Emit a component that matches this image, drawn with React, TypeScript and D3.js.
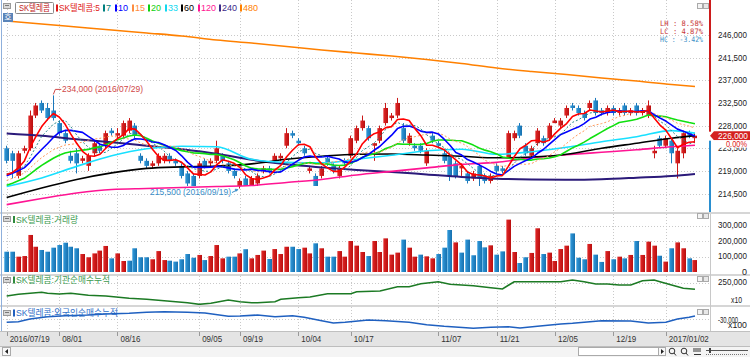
import React from 'react';
import * as d3 from 'd3';

const FONT = "'Liberation Sans','Noto Sans CJK KR',sans-serif";

// ---- axis ticks (trading-day index) ----
const tickIdx = [0, 9, 19, 33, 40, 50, 59, 74, 84, 94, 104, 113];
const tickLabels = ['2016/07/19', '08/01', '08/16', '09/05', '09/19', '10/04', '10/17', '11/07', '11/21', '12/05', '12/19', '2017/01/02'];
const priceTicks = [246000, 241500, 237000, 232500, 228000, 223500, 219000, 214500];
const volTicks = [0, 100000, 200000, 300000];

// ---- daily candles ----
const open = [223500,222500,218000,223000,223500,230000,232500,231500,231000,228500,
226500,222000,222500,221000,220000,222500,224000,224000,227000,226000,
226000,227000,228000,222000,221000,220000,220500,221000,222000,221000,
220000,218500,218000,218000,221000,220500,221000,222000,220500,219000,
216000,217500,216000,216500,219000,219500,221000,221500,224000,226500,
225000,223500,219000,218000,218000,221500,220000,218000,221000,222000,
225000,227500,227500,224000,225000,228500,229500,230000,227500,224500,
224000,224000,220500,226000,224500,222500,222000,220500,219500,218500,
217500,220000,218000,217000,220000,219500,221500,225500,228000,224000,
222000,224500,225500,225500,228500,228000,230000,232000,231500,230500,
231500,233000,231000,230500,231500,230500,232000,230500,232000,230500,
230000,222500,225500,224000,225000,220500,222500,226500,225500];
const high = [224000,223000,223000,224000,231000,232500,233000,232500,234000,229000,
227000,223000,223500,222000,222500,225000,224500,227000,227500,227500,
229000,229500,228500,222500,221500,221000,222500,222500,222500,221500,
220500,219000,218500,221000,221500,221500,225000,222500,221000,219500,
217500,218000,218000,218500,220000,220000,222500,222500,227500,227000,
225500,224000,220000,218500,220000,222000,220500,220000,221500,226000,
228000,230000,228000,224500,228000,232500,230500,233500,228500,226500,
224500,224500,223500,226500,225000,223000,222500,221000,220500,219000,
219000,220500,218500,218500,220500,220000,227000,227000,228500,224500,
224000,227500,226000,228500,229500,229500,232000,232500,232000,231000,
233000,233500,231500,232000,232000,231500,232500,231500,232500,231500,
233000,224000,226000,226000,225500,223500,227000,227000,226500];
const low = [220500,217500,217500,222500,223000,229500,230500,229000,229000,226000,
224500,220500,218500,220500,219000,222000,222500,223500,226000,225500,
225500,226500,225500,220500,219500,219500,220000,220500,220500,220000,
217500,216000,216000,217500,219500,220000,220500,220500,218500,217500,
215500,216000,216000,216000,218500,218500,220500,221000,223500,225500,
224000,222000,218500,216000,217500,220000,218500,217500,220000,221500,
224500,227000,225000,221000,224500,228000,229000,229500,224500,224000,
223000,222500,220000,224500,223500,220500,217000,217500,218000,216500,
217000,216000,216500,216500,218500,218500,221500,225000,225500,222000,
221500,224000,224000,225000,228500,227500,229500,231000,230000,229000,
231000,230000,230000,230000,230000,230000,230000,230000,230000,230000,
229500,221500,223500,223500,220500,217500,221500,225500,224500];
const close = [221000,221000,222500,223500,230000,232000,231000,229500,229500,226500,
225000,221000,220500,221500,222000,224500,223000,226500,226500,226500,
228500,229000,226000,221000,220000,220500,222000,222000,221000,220500,
218000,216500,216000,220500,220000,221000,223500,221000,219000,218000,
217000,216000,217500,218000,219500,219000,222000,222000,226500,226000,
224500,222500,219500,216000,219500,220500,219000,219500,220500,225500,
227500,229000,225500,224500,227500,231500,230000,232500,225000,226000,
223500,223000,223000,225000,224000,221000,218000,218000,220000,217000,
218500,217500,217000,218000,219000,219000,226500,226500,226000,222500,
223500,227000,224500,228000,229000,229000,231500,231500,230500,229500,
232500,230500,230500,231500,230500,231000,230500,231000,230500,231000,
232000,223000,224000,225500,222500,223000,226500,226000,226000];
// closes of the sessions just before the window (feed the short averages)
const priorCloses = [212500,213000,213500,213000,214000,214500,215000,215500,215000,216000,
216000,217500,218000,219000,218500,219000,218000,217000,216500];

// ---- longer moving averages, read at sampled sessions ----
const knotIdx = [0, 6, 12, 18, 24, 30, 36, 42, 48, 54, 60, 66, 72, 78, 84, 90, 96, 102, 108, 114, 118];
const ma33 = [215900,217600,219900,222000,223400,223900,223800,221300,220700,220600,221300,222100,223000,223300,222300,222800,223700,224800,225800,227000,226500];
const ma60 = [213700,215600,217300,218600,219500,219800,219950,220400,221300,221900,222300,222350,222150,221900,221600,221750,222300,223500,224500,225500,226000];
const ma120 = [212300,213500,214600,215300,215500,215700,215900,216100,216700,217300,218200,218900,219600,220300,220700,221600,222200,222700,223200,223800,224100];
const ma240 = [226450,226000,225300,224700,224000,223300,222400,221200,220300,219700,219200,218800,218300,217800,217450,217300,217250,217350,217650,218000,218400];
const ma480 = [248780,248190,247590,246990,246400,245800,245010,244410,243720,243020,242420,241830,241130,240340,239440,238750,238150,237460,236860,236160,235770];

// ---- volume ----
const volume = [131,131,99,103,239,163,142,131,157,174,
189,163,153,116,95,120,138,168,88,120,
71,73,153,95,95,82,135,77,73,67,
82,116,92,110,77,103,174,88,99,99,
120,147,88,110,138,84,148,116,163,163,
148,157,120,185,153,99,99,135,99,200,
170,129,103,200,129,217,112,125,209,157,
99,112,101,88,116,157,271,191,125,209,
108,200,159,172,112,133,338,129,58,95,
123,282,116,125,71,148,170,249,92,82,
181,112,65,135,82,99,88,110,200,110,
196,170,105,67,153,191,153,88,77].map(v => v * 1000);
const volColor = 'BBRRRRBBBB' + 'BBBRRRRRBR' + 'RBBBBRRRBB' + 'BBBRBRRRBB' + 'RBRRRBRRRB' +
  'BRRBRBBRRR' + 'RRBRRRRRBR' + 'RBRRBBBRBB' + 'BBBRBBRRBB' + 'RRBRRRRBBB' + 'RBBRBRBRBR' + 'RRBRBRRBR';

// ---- institutional cumulative net buying (x10) ----
const instIdx = [0,2,6,7,9,11,14,17,21,24,27,31,33,35,38,40,42,43,46,47,50,52,55,59,60,64,67,69,71,74,76,80,83,85,87,91,95,97,99,101,103,105,107,109,111,112,114,116,118];
const instVal = [224000,227400,231400,229400,228000,229400,225400,224000,219400,217400,214600,210600,207400,209400,216000,212600,210600,210600,212600,217400,220600,222000,228600,228600,232600,234000,242600,242600,248600,252600,247400,244600,240600,238000,252600,252600,252600,256000,252600,248000,248000,246000,246000,254600,256000,252600,246000,239400,237400];
// ---- foreign cumulative net buying (x100) ----
const forIdx = [0,2,4,7,10,14,17,21,24,27,31,34,38,40,43,46,49,51,54,56,58,62,65,69,72,75,80,83,86,88,91,95,97,99,102,107,110,113,115,117,118];
const forVal = [-31150,-30850,-29500,-28350,-27850,-27500,-27000,-26650,-26150,-25850,-26150,-26500,-28150,-28000,-27500,-28350,-27850,-28650,-30350,-31500,-31150,-30000,-30350,-31150,-32350,-33150,-34150,-33650,-33350,-34000,-33150,-32000,-31650,-31150,-30350,-30500,-31500,-31150,-29500,-28650,-28000];

const legendItems = [
  { label: '7', x: 103, w: 5, color: '#008080' },
  { label: '10', x: 115, w: 10, color: '#0000ff' },
  { label: '15', x: 132, w: 10, color: '#ff8c40' },
  { label: '20', x: 148, w: 10, color: '#10d010' },
  { label: '33', x: 165, w: 10, color: '#10d8f0' },
  { label: '60', x: 181, w: 10, color: '#000000' },
  { label: '120', x: 198, w: 15, color: '#ff1493' },
  { label: '240', x: 219, w: 15, color: '#3a2a8a' },
  { label: '480', x: 240, w: 15, color: '#ff8000' },
];

const fmt = d3.format(',');

function T(p: any) {
  const { x, y, fill = '#222', size = 9, len, anchor = 'start', children, family } = p;
  return (
    <text x={x} y={y} fill={fill} fontSize={size} fontFamily={family || FONT} textAnchor={anchor}
      dominantBaseline="central" textLength={len} lengthAdjust={len ? 'spacingAndGlyphs' : undefined}>{children}</text>
  );
}

function PanelIcon({ x, y }: { x: number; y: number }) {
  return (
    <g>
      <rect x={x + 0.5} y={y + 0.5} width={7} height={5} fill="#d8d8d8" stroke="#9a9a9a" />
      <line x1={x + 2} x2={x + 6} y1={y + 2.5} y2={y + 2.5} stroke="#777" />
    </g>
  );
}

function WinButtons({ y }: { y: number }) {
  return (
    <g>
      <rect x={697.5} y={y + 0.5} width={5} height={5} fill="#f4f4f4" stroke="#aaa" />
      <rect x={703.5} y={y + 0.5} width={5} height={5} fill="#e8e8e8" stroke="#aaa" />
    </g>
  );
}

export default function App() {
  const n = close.length;
  const x = d3.scaleLinear().domain([0, n - 1]).range([6.67, 6.67 + 5.833 * (n - 1)]);
  const yP = d3.scaleLinear().domain([214500, 246000]).range([193.55, 35]);
  const yV = d3.scaleLinear().domain([0, 300000]).range([272, 225.5]);
  const yI = d3.scaleLinear().domain([200000, 250000]).range([308, 283]);
  const yF = d3.scaleLinear().domain([-40000, -30000]).range([340, 320]);

  const all = priorCloses.concat(close);
  const off = priorCloses.length;
  const sma = (len: number) => close.map((_, i) => {
    const s = all.slice(i + off - len + 1, i + off + 1);
    return [i, d3.mean(s) as number] as [number, number];
  });

  const priceLine = d3.line<[number, number]>().x(d => x(d[0])).y(d => yP(d[1]));
  const smooth = d3.line<[number, number]>().x(d => x(d[0])).y(d => yP(d[1])).curve(d3.curveMonotoneX);
  const knots = (vals: number[]) => knotIdx.map((k, j) => [k, vals[j]] as [number, number]);

  const maLines = [
    { d: smooth(knots(ma480)), c: '#ff8000', w: 1.6 },
    { d: smooth(knots(ma240)), c: '#2b1a7a', w: 2 },
    { d: smooth(knots(ma120)), c: '#ff1493', w: 1.6 },
    { d: smooth(knots(ma60)), c: '#000000', w: 1.6 },
    { d: smooth(knots(ma33)), c: '#18e0ff', w: 1.6 },
    { d: priceLine(sma(20)), c: '#10e010', w: 1.6 },
    { d: priceLine(sma(15)), c: '#ff9a5a', w: 1, dash: '2,2' },
    { d: priceLine(sma(10)), c: '#0000ff', w: 1.6 },
    { d: priceLine(sma(7)), c: '#2a8a8a', w: 1, dash: '2,2' },
    { d: priceLine(sma(5)), c: '#ff0000', w: 1.6 },
  ];

  const instLine = d3.line<number>().x((_, j) => x(instIdx[j])).y(v => yI(v))(instVal);
  const forLine = d3.line<number>().x((_, j) => x(forIdx[j])).y(v => yF(v))(forVal);

  const gx = tickIdx.map(i => Math.round(x(i)) + 0.5);
  const last = close[n - 1];
  const lastY = yP(last);

  const hiIdx = high.indexOf(d3.max(high) as number);
  const loIdx = low.indexOf(d3.min(low) as number);
  const hi = high[hiIdx], lo = low[loIdx];
  const pct = (v: number) => (v * 100).toFixed(2) + '%';

  const panels = [
    { top: 0, bottom: 212 },
    { top: 214, bottom: 274 },
    { top: 276, bottom: 305 },
    { top: 307, bottom: 331 },
  ];

  return (
    <svg width={750} height={357} style={{ position: 'absolute', left: 0, top: 0, background: '#fff' }}>
      <defs>
        <linearGradient id="gR" x1="0" x2="1" y1="0" y2="0">
          <stop offset="0" stopColor="#f5a0a0" />
          <stop offset="0.3" stopColor="#d82222" />
          <stop offset="1" stopColor="#b80e0e" />
        </linearGradient>
        <linearGradient id="gB" x1="0" x2="1" y1="0" y2="0">
          <stop offset="0" stopColor="#90cdf0" />
          <stop offset="0.3" stopColor="#2a8fd0" />
          <stop offset="1" stopColor="#1670ae" />
        </linearGradient>
        <clipPath id="cMain"><rect x={3} y={0} width={706} height={212} /></clipPath>
        <clipPath id="cInst"><rect x={3} y={276} width={706} height={29} /></clipPath>
        <clipPath id="cFor"><rect x={3} y={307} width={706} height={24} /></clipPath>
      </defs>

      <rect x={0} y={0} width={750} height={357} fill="#fff" />

      {/* grid */}
      {panels.map((p, k) => gx.map((g, j) => (
        <line key={`v${k}-${j}`} x1={g} x2={g} y1={p.top} y2={p.bottom} stroke="#c9c9c9" strokeDasharray="1,2" />
      )))}
      {priceTicks.map(t => (
        <line key={`h${t}`} x1={3} x2={709} y1={Math.round(yP(t)) + 0.5} y2={Math.round(yP(t)) + 0.5} stroke="#c9c9c9" strokeDasharray="1,2" />
      ))}
      {volTicks.slice(1).map(t => (
        <line key={`hv${t}`} x1={3} x2={709} y1={Math.round(yV(t)) + 0.5} y2={Math.round(yV(t)) + 0.5} stroke="#c9c9c9" strokeDasharray="1,2" />
      ))}
      <line x1={3} x2={709} y1={283.5} y2={283.5} stroke="#c9c9c9" strokeDasharray="1,2" />
      <line x1={3} x2={709} y1={319.5} y2={319.5} stroke="#c9c9c9" strokeDasharray="1,2" />

      {/* candles */}
      <g clipPath="url(#cMain)">
        {close.map((c, i) => {
          const up = c > open[i] || (c === open[i] && i > 0 && c >= close[i - 1]);
          const left = Math.round(x(i) - 2.5);
          const top = yP(Math.max(open[i], c));
          const bot = yP(Math.min(open[i], c));
          return (
            <g key={`c${i}`}>
              <line x1={left + 2.5} x2={left + 2.5} y1={yP(high[i])} y2={yP(low[i])} stroke={up ? '#cc1818' : '#1a78bc'} />
              <rect x={left} y={top} width={5} height={Math.max(1, bot - top)} fill={up ? 'url(#gR)' : 'url(#gB)'} />
            </g>
          );
        })}
        {maLines.map((m, k) => (
          <path key={`ma${k}`} d={m.d || ''} fill="none" stroke={m.c} strokeWidth={m.w} strokeDasharray={m.dash} strokeLinejoin="round" />
        ))}
      </g>

      {/* hi / lo annotations */}
      <path d={`M${x(hiIdx)},${yP(hi) - 1} L${x(hiIdx) + 2},${yP(hi) - 6} L${x(hiIdx) + 8},${yP(hi) - 6}`} fill="none" stroke="#d04848" />
      <T x={62} y={yP(hi) - 6} fill="#d04848" size={9} len={81}>{`${fmt(hi)} (2016/07/29)`}</T>
      <T x={150} y={yP(lo) + 3} fill="#3a8ec8" size={9} len={81}>{`${fmt(lo)} (2016/09/19)`}</T>
      <path d={`M${x(loIdx) - 8},${yP(lo) + 4} L${x(loIdx) - 2},${yP(lo) + 1}`} fill="none" stroke="#3a8ec8" />
      <path d={`M${x(loIdx) - 2},${yP(lo) + 1} l-3,-0.5 l1,2.5 z`} fill="#3a8ec8" stroke="#3a8ec8" strokeWidth={0.5} />

      {/* volume */}
      {volume.map((v, i) => {
        const left = Math.round(x(i) - 2.5);
        return <rect key={`vb${i}`} x={left} y={yV(v)} width={5} height={yV(0) - yV(v)} fill={volColor[i] === 'R' ? 'url(#gR)' : 'url(#gB)'} />;
      })}

      {/* investor lines */}
      <g clipPath="url(#cInst)">
        <path d={instLine || ''} fill="none" stroke="#1c7a24" strokeWidth={1.6} />
      </g>
      <g clipPath="url(#cFor)">
        <path d={forLine || ''} fill="none" stroke="#1f60c0" strokeWidth={1.6} />
      </g>

      {/* separators */}
      <rect x={0} y={212} width={750} height={2} fill="#d6d6d6" />
      <rect x={0} y={274} width={750} height={2} fill="#d6d6d6" />
      <rect x={0} y={305} width={750} height={2} fill="#d6d6d6" />
      <line x1={710.5} x2={710.5} y1={214} y2={331} stroke="#c8c8c8" />
      <line x1={1.5} x2={1.5} y1={0} y2={346} stroke="#8fb0dc" />

      {/* current price bar */}
      <rect x={709} y={0} width={2} height={lastY - 4} fill="#cc1c1c" />
      <rect x={709} y={lastY + 5} width={2} height={212 - lastY - 5} fill="#2a8fd0" />

      {/* right axis: price */}
      {priceTicks.map(t => (
        <T key={`pl${t}`} x={747} y={yP(t)} anchor="end" len={29} fill="#222">{fmt(t)}</T>
      ))}
      <path d={`M710,${lastY} L714,${lastY - 4.5} L750,${lastY - 4.5} L750,${lastY + 4.5} L714,${lastY + 4.5} Z`} fill="#d42020" />
      <T x={748} y={lastY} anchor="end" len={30} fill="#fff">{fmt(last)}</T>
      <rect x={712} y={lastY + 4.5} width={38} height={7.5} fill="#fff" />
      <T x={747} y={lastY + 8.5} anchor="end" len={21} fill="#e02020">{'0.00%'}</T>

      {/* LH / LC / HC */}
      <T x={703} y={23} anchor="end" len={43} fill="#c83838" size={7.5} family="'DejaVu Sans Mono',monospace">{`LH :  ${pct((hi - lo) / lo)}`}</T>
      <T x={703} y={31} anchor="end" len={43} fill="#c83838" size={7.5} family="'DejaVu Sans Mono',monospace">{`LC :  ${pct((last - lo) / lo)}`}</T>
      <T x={703} y={39} anchor="end" len={43} fill="#3a90c8" size={7.5} family="'DejaVu Sans Mono',monospace">{`HC : ${pct((last - hi) / hi)}`}</T>

      {/* right axis: volume */}
      {volTicks.map(t => (
        <T key={`vl${t}`} x={747} y={yV(t) - 0.5} anchor="end" len={t === 0 ? 5 : 29}>{fmt(t)}</T>
      ))}
      <T x={747} y={282} anchor="end" len={29}>{'250,000'}</T>
      <T x={742} y={300} anchor="end" len={11}>{'x10'}</T>
      <T x={738} y={320} anchor="end" len={20}>{'-30,000'}</T>
      <T x={747} y={325} anchor="end" len={19}>{'x100'}</T>

      {/* legend */}
      <PanelIcon x={3} y={3} />
      <rect x={15.5} y={2.5} width={38} height={11} fill="#fff" stroke="#8a8a8a" rx={1} />
      <T x={19} y={8} fill="#c01818" len={31}>{'SK텔레콤'}</T>
      <rect x={56} y={4.5} width={2} height={7} fill="#e01818" />
      <T x={59} y={8} fill="#e01818" len={41}>{'SK텔레콤:5'}</T>
      {legendItems.map(l => (
        <g key={`lg${l.label}`}>
          <rect x={l.x} y={4.5} width={2} height={7} fill={l.color} />
          <T x={l.x + 3} y={8} fill={l.color} len={l.w}>{l.label}</T>
        </g>
      ))}
      <rect x={3} y={13} width={10} height={9} fill="#5a84b8" />
      <T x={8} y={17.5} fill="#fff" size={8} anchor="middle">{'호'}</T>
      <WinButtons y={3} />

      {/* panel headers */}
      <PanelIcon x={3} y={216} />
      <rect x={13} y={216} width={2} height={7} fill="#2e8a3e" />
      <T x={16} y={219.5} fill="#3c9a50" len={62}>{'SK텔레콤:거래량'}</T>
      <WinButtons y={213} />
      <PanelIcon x={3} y={277} />
      <rect x={13} y={276.5} width={2} height={7} fill="#2e8a3e" />
      <T x={16} y={280} fill="#3c9a50" len={94}>{'SK텔레콤:기관순매수누적'}</T>
      <WinButtons y={276} />
      <PanelIcon x={3} y={310} />
      <rect x={13} y={309.5} width={2} height={7} fill="#2060c0" />
      <T x={16} y={313} fill="#3070c8" len={102}>{'SK텔레콤:외국인순매수누적'}</T>
      <WinButtons y={309} />

      {/* x axis */}
      <rect x={0} y={331} width={750} height={15} fill="#e4e4e4" />
      <line x1={0} x2={750} y1={331.5} y2={331.5} stroke="#c0c0c0" />
      {tickIdx.map((t, j) => (
        <g key={`xt${t}`}>
          <line x1={gx[j]} x2={gx[j]} y1={332} y2={336} stroke="#999" />
          <T x={x(t) + 3} y={339} fill="#333" len={tickLabels[j].length * 4}>{tickLabels[j]}</T>
        </g>
      ))}

      {/* bottom tool strip */}
      <rect x={0} y={346} width={750} height={11} fill="#f4f4f4" />
      <line x1={0} x2={750} y1={346.5} y2={346.5} stroke="#bdbdbd" />
      <rect x={2.5} y={347.5} width={8} height={8} fill="#f8f8f8" stroke="#aaa" />
      <path d="M8,349 L5,351.5 L8,354 Z" fill="#222" />
      <rect x={578.5} y={347.5} width={80} height={8} fill="#fff" stroke="#aaa" />
      <rect x={658.5} y={347.5} width={7} height={8} fill="#f8f8f8" stroke="#aaa" />
      <path d="M661,349 L664,351.5 L661,354 Z" fill="#222" />
      <circle cx={672} cy={351} r={2.8} fill="none" stroke="#333" />
      <line x1={674} x2={676} y1={353} y2={355.5} stroke="#333" />
      <circle cx={684} cy={351} r={2.8} fill="none" stroke="#333" />
      <line x1={686} x2={688} y1={353} y2={355.5} stroke="#333" />
      <path d="M694,348 v4 M696,348 v4 M698,348 v4 M700,348 v4 M694,354.5 h7" stroke="#333" />
      <line x1={706} x2={748} y1={350.5} y2={350.5} stroke="#555" />
      <path d="M706,354.5 h42" stroke="#777" strokeDasharray="1,1" />
      <rect x={709} y={348} width={2} height={5} fill="#444" />
    </svg>
  );
}
